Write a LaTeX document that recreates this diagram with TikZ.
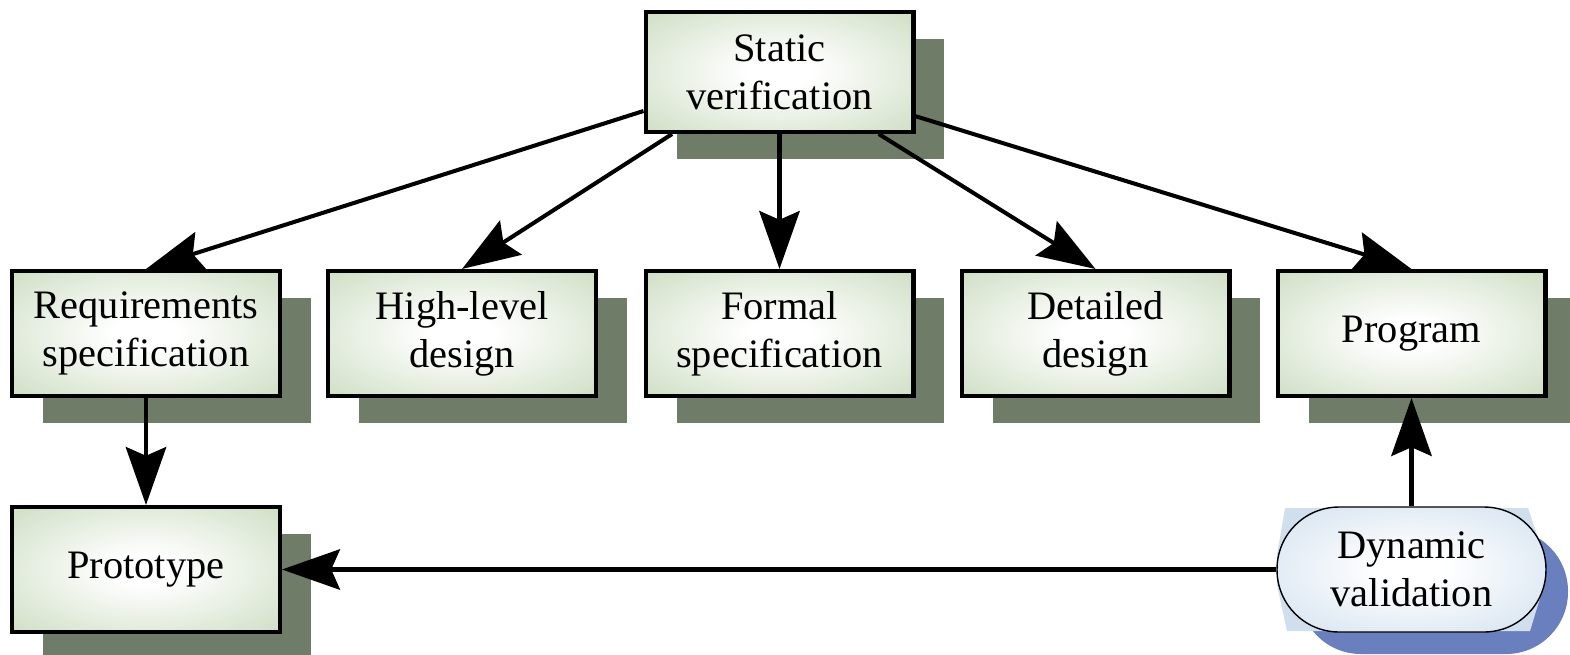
\documentclass[tikz,border=0pt]{standalone}
\usepackage{fontspec}
\setmainfont{Liberation Serif}
\usetikzlibrary{arrows.meta, shadows}
\definecolor{boxgreen}{RGB}{203,220,192}
\definecolor{shadegreen}{RGB}{110,124,104}
\definecolor{paleblue}{RGB}{207,223,238}
\definecolor{shadeblue}{RGB}{106,128,190}
\pgfdeclareradialshading{greenglow}{\pgfpoint{0bp}{0bp}}{color(0bp)=(white); color(6bp)=(white);
  color(38bp)=(boxgreen); color(50bp)=(boxgreen)}
\pgfdeclareradialshading{blueglow}{\pgfpoint{0bp}{0bp}}{color(0bp)=(white); color(6bp)=(white);
  color(38bp)=(paleblue); color(50bp)=(paleblue)}

\begin{document}
\begin{tikzpicture}[x=0.02cm, y=-0.02cm,
  every node/.style={font=\fontsize{23}{27.5}\selectfont, align=center, inner sep=0pt},
  stagebox/.style={draw, line width=2.3pt, minimum width=5.36cm, minimum height=2.5cm,
    shading=greenglow,
    drop shadow={shadow xshift=0.62cm, shadow yshift=-0.54cm, fill=shadegreen, opacity=1}},
  validbox/.style={draw, line width=0.8pt, rounded corners=1.24cm, minimum width=5.38cm,
    minimum height=2.5cm, shading=blueglow},
  flow/.style={line width=2.3pt, -{Stealth[length=33pt, width=23pt, inset=5pt]}}]
  \useasboundingbox (0,0) rectangle (1570,654);
  \node[stagebox, minimum height=2.4cm] (stat) at (779.5,72) {Static\\verification};
  \node[stagebox] (req) at (146,333.5) {Requirements\\specification};
  \node[stagebox] (high) at (462,333.5) {High-level\\design};
  \node[stagebox] (formal) at (779.5,333.5) {Formal\\specification};
  \node[stagebox] (det) at (1095.5,333.5) {Detailed\\design};
  \node[stagebox] (prog) at (1411.5,333.5) {Program};
  \node[stagebox] (proto) at (146,569.5) {Prototype};
  % dynamic validation, shadow and pale back first
  \fill[shadeblue, rounded corners=1.24cm] (1299,529) rectangle (1568,654);
  \fill[paleblue] (1285,508) -- (1528,508) -- (1544,555) -- (1544,585) -- (1530,631)
    -- (1287,631) -- (1277,585) -- (1277,555) -- cycle;
  \node[validbox] (dyn) at (1411.5,569.5) {Dynamic\\validation};
  \draw[flow] (stat.196) -- (req.north);
  \draw[flow] (stat.210) -- (high.north);
  \draw[flow] (stat.south) -- (formal.north);
  \draw[flow] (stat.328) -- (det.north);
  \draw[flow] (stat.342) -- (prog.north);
  \draw[flow] (req.south) -- (proto.north);
  \draw[flow] (dyn.north) -- (prog.south);
  \draw[flow] (dyn.west) -- (proto.east);
\end{tikzpicture}
\end{document}
